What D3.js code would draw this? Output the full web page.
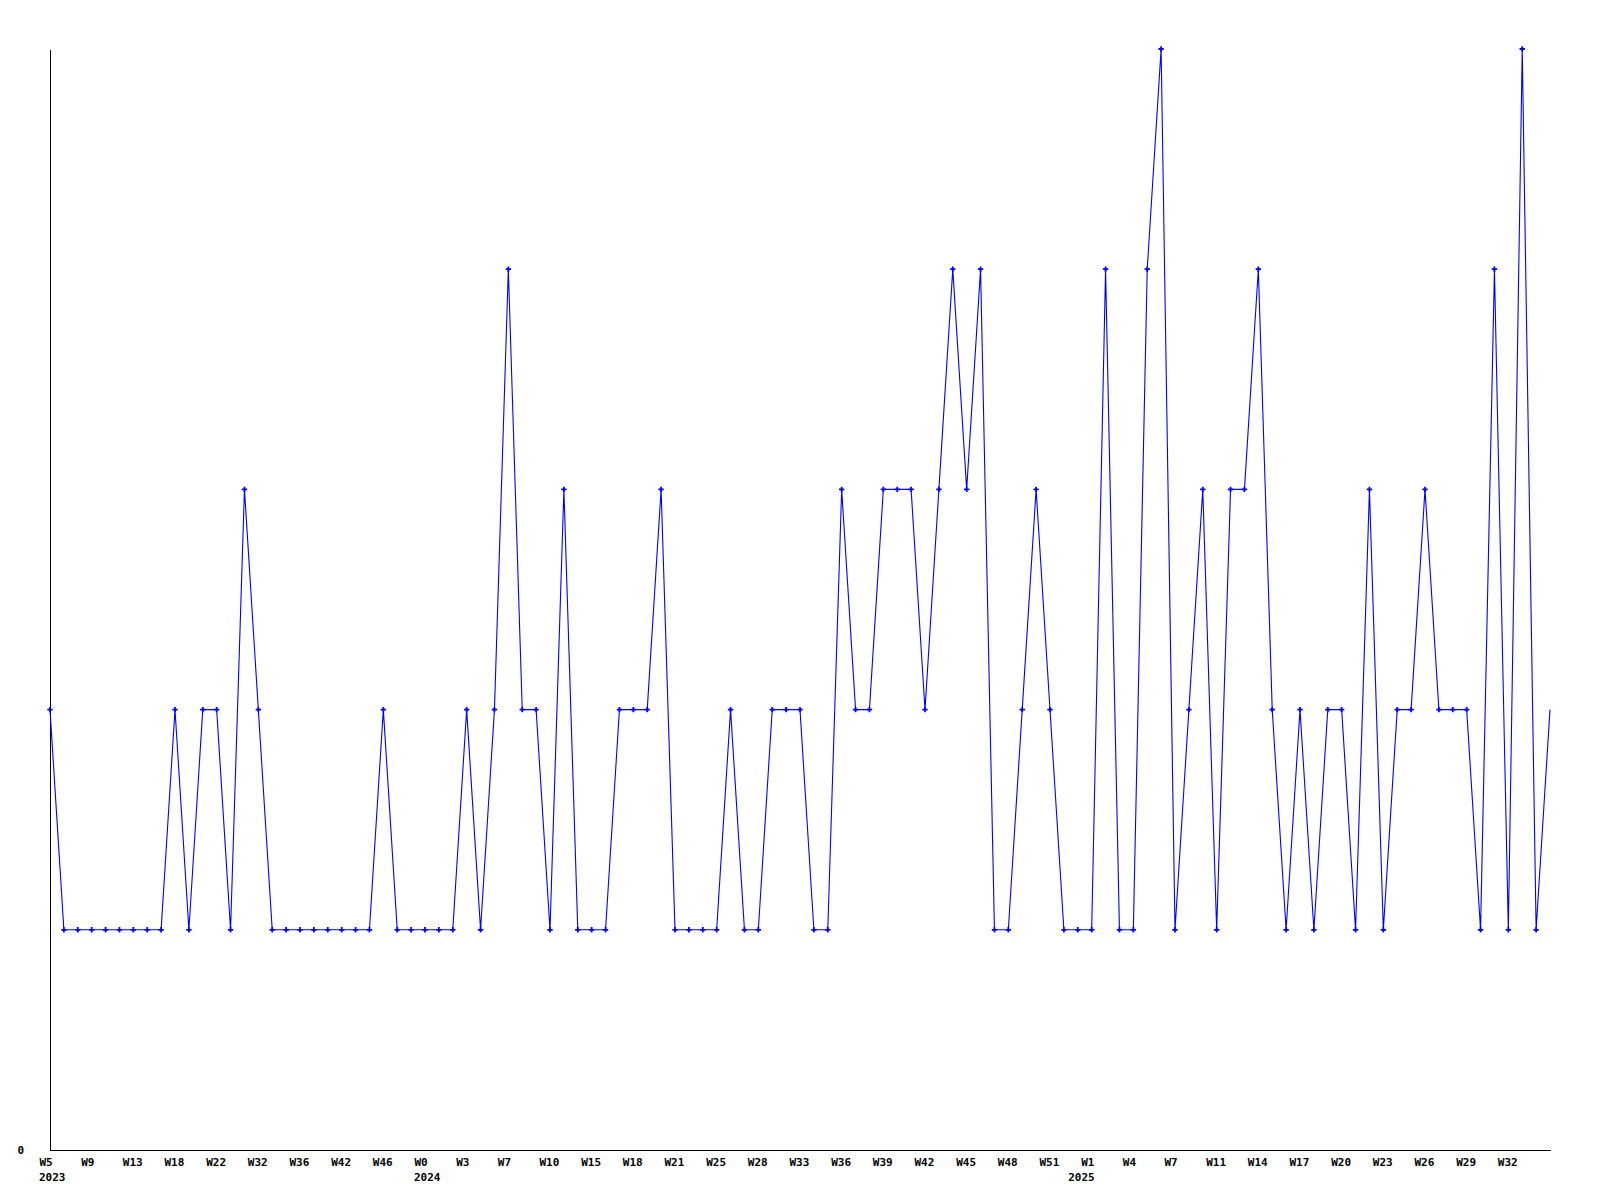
<!DOCTYPE html>
<html>
<head>
<meta charset="utf-8">
<script src="https://cdn.jsdelivr.net/npm/d3@7"></script>
<style>
  html, body { margin: 0; padding: 0; background: #ffffff; }
  svg { display: block; }
  .tick text, .year { font-family: "DejaVu Sans Mono", "Liberation Mono", monospace; font-weight: bold; font-size: 11px; fill: #000; }
</style>
</head>
<body>
<svg id="chart" width="1600" height="1200"></svg>
<script>
// Series values, one per week (109 points)
const values = [2,1,1,1,1,1,1,1,1,2,1,2,2,1,3,2,1,1,1,1,1,1,1,1,2,1,1,1,1,1,
                2,1,2,4,2,2,1,3,1,1,1,2,2,2,3,1,1,1,1,2,1,1,2,2,2,1,1,3,2,2,
                3,3,3,2,3,4,3,4,1,1,2,3,2,1,1,1,4,1,1,4,5,1,2,3,1,3,3,4,2,1,
                2,1,2,2,1,3,1,2,2,3,2,2,2,1,4,1,5,1,2];
// Tick labels, shown on every third point
const tickLabels = ["W5","W9","W13","W18","W22","W32","W36","W42","W46","W0","W3","W7","W10",
                    "W15","W18","W21","W25","W28","W33","W36","W39","W42","W45","W48","W51","W1",
                    "W4","W7","W11","W14","W17","W20","W23","W26","W29","W32"];
const tickStep = 3;
// Year labels and the point index at which each year starts
const yearLabels = ["2023","2024","2025"];
const yearIndex = [0, 27, 75];
const yTicks = [0];

const svg = d3.select("#chart");
const x = d3.scaleLinear().domain([0, values.length - 1]).range([50, 1550]);
const y = d3.scaleLinear().domain([0, 5]).range([1150, 49]);

// X axis
const xAxis = d3.axisBottom(x)
  .tickValues(tickLabels.map((d, i) => i * tickStep))
  .tickFormat((d, i) => tickLabels[i])
  .tickSize(0).tickSizeOuter(0);
const gx = svg.append("g").attr("transform", "translate(0,1150)").call(xAxis);
gx.select(".domain").attr("stroke", "#000").attr("stroke-width", 1).attr("shape-rendering", "crispEdges");
gx.selectAll(".tick text").attr("text-anchor", "start").attr("x", -11).attr("y", 16).attr("dy", 0);

// Year labels
svg.append("g").selectAll("text").data(yearLabels).join("text")
  .attr("class", "year")
  .attr("x", (d, i) => i === yearLabels.length - 1 ? x(yearIndex[i]) + 3 : x(yearIndex[i]) - 11)
  .attr("y", 1181)
  .attr("text-anchor", (d, i) => i === yearLabels.length - 1 ? "end" : "start")
  .text(d => d);

// Y axis
const yAxis = d3.axisLeft(y).tickValues(yTicks).tickFormat(d3.format("d")).tickSize(0).tickSizeOuter(0);
const gy = svg.append("g").attr("transform", "translate(50,0)").call(yAxis);
gy.select(".domain").attr("stroke", "#000").attr("stroke-width", 1).attr("shape-rendering", "crispEdges");
gy.selectAll(".tick text").attr("x", -26).attr("dy", "0.32em").attr("text-anchor", "end");

// Line
const line = d3.line().x((d, i) => x(i)).y(d => y(d));
svg.append("path").datum(values)
  .attr("d", line)
  .attr("fill", "none")
  .attr("stroke", "#0000ff")
  .attr("stroke-width", 1.1);

// Markers
const sym = d3.symbol().type(d3.symbolCross).size(16);
svg.append("g").selectAll("path").data(values.slice(0, values.length - 1)).join("path")
  .attr("d", sym)
  .attr("transform", (d, i) => `translate(${x(i)},${y(d)})`)
  .attr("fill", "#0000ff");
</script>
</body>
</html>
